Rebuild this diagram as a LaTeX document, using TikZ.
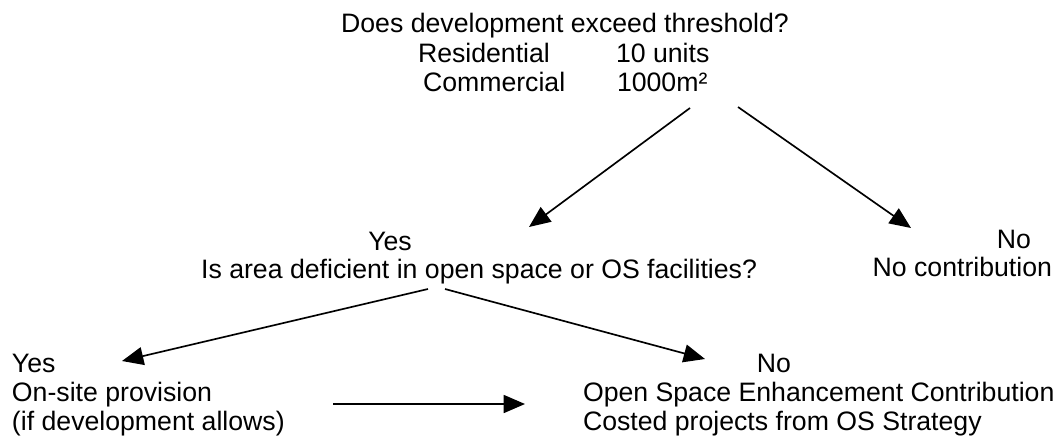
\documentclass[tikz,border=0pt]{standalone}
\usepackage{fontspec}
\setmainfont{Liberation Sans}
\usetikzlibrary{arrows.meta}
\begin{document}
\begin{tikzpicture}[x=0.75pt,y=-0.75pt,
  txt/.style={inner sep=0pt,outer sep=0pt,font=\fontsize{20pt}{21.4pt}\selectfont},
  arr/.style={line width=1.25pt,-{Triangle[length=16pt,width=13.5pt]}}]
\useasboundingbox (0,0) rectangle (1061,436);
% top block
\node[txt,anchor=base] (title) at (565,32) {Does development exceed threshold?};
\node[txt,anchor=base west] (res) at (418,62) {Residential};
\node[txt,anchor=base west] (resv) at (616,62) {10 units};
\node[txt,anchor=base west] (com) at (423,91) {Commercial};
\node[txt,anchor=base west] (comv) at (617,91) {1000m²};
% middle
\node[txt,anchor=base] (yes1) at (390,250) {Yes};
\node[txt,anchor=base east] (q2) at (757,278) {Is area deficient in open space or OS facilities?};
\node[txt,anchor=base] (no1) at (1014,248) {No};
\node[txt,anchor=base east] (nocont) at (1052,276) {No contribution};
% bottom left
\node[txt,anchor=base west] (yes2) at (12,372) {Yes};
\node[txt,anchor=base west] (onsite) at (12,401) {On-site provision};
\node[txt,anchor=base west] (ifdev) at (12,430) {(if development allows)};
% bottom right
\node[txt,anchor=base] (no2) at (774,372) {No};
\node[txt,anchor=base west] (osec) at (583,401) {Open Space Enhancement Contribution};
\node[txt,anchor=base west] (costed) at (583,430) {Costed projects from OS Strategy};
% arrow end points
\coordinate (a1s) at (690,108); \coordinate (a1e) at (529,227);
\coordinate (a2s) at (738,107); \coordinate (a2e) at (911,228);
\coordinate (a3s) at (428,289); \coordinate (a3e) at (122,361);
\coordinate (a4s) at (445,289); \coordinate (a4e) at (705,359);
\coordinate (a5s) at (333,404); \coordinate (a5e) at (525,404);
\draw[arr] (a1s) -- (a1e);
\draw[arr] (a2s) -- (a2e);
\draw[arr] (a3s) -- (a3e);
\draw[arr] (a4s) -- (a4e);
\draw[arr] (a5s) -- (a5e);
\end{tikzpicture}
\end{document}
